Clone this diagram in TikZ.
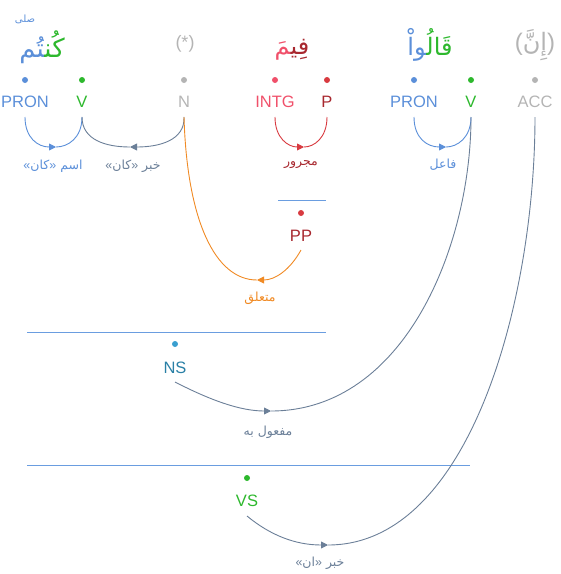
\documentclass[tikz,border=0pt]{standalone}
\usepackage{fontspec}
\setmainfont{Liberation Sans}
\newfontfamily\arabicfont[Script=Arabic]{DejaVu Sans}
\TeXXeTstate=1
\usetikzlibrary{arrows.meta}
\definecolor{cpron}{HTML}{5B8FD9}
\definecolor{cverb}{HTML}{2DB82D}
\definecolor{cgrey}{HTML}{B4B4B4}
\definecolor{cintg}{HTML}{F0506A}
\definecolor{cpdot}{HTML}{D83A40}
\definecolor{cptxt}{HTML}{A8282F}
\definecolor{cns}{HTML}{2A80A6}
\definecolor{cnsdot}{HTML}{3A9FCF}
\definecolor{carc}{HTML}{6B7F98}
\definecolor{corange}{HTML}{F08A24}
\definecolor{cline}{HTML}{6A9DE0}
\newcommand{\arw}[1]{\beginR #1\endR}
\newcommand{\lt}[1]{{\normalfont #1}}
\begin{document}
\begin{tikzpicture}[x=1pt,y=-1pt,
  tag/.style={font=\fontsize{16.5}{18}\selectfont, inner sep=0pt, anchor=base},
  dotn/.style={circle,fill,inner sep=0pt,minimum size=6pt},
  lab/.style={font=\arabicfont\fontsize{12.5}{14}\selectfont, inner sep=0pt},
  word/.style={font=\arabicfont\fontsize{24}{28}\selectfont, inner sep=0pt},
  arcl/.style={line width=0.9pt},
  tip/.style={-{Triangle[length=7pt,width=7pt]}},
  hline/.style={cline, line width=1pt}]
\useasboundingbox (0,0) rectangle (561,574);
% words (pieces set in visual order, left to right)
\node[word, font=\arabicfont\fontsize{26}{30}\selectfont] (w1) at (42,47) {{\color{cpron}^^^^200dتُم}{\color{cverb}كُن^^^^200d}};
\node[cpron, inner sep=0pt, font=\arabicfont\fontsize{10}{11}\selectfont] (w1s) at (25,19) {\arw{صلى}};
\node[word, cgrey, font=\fontsize{18}{20}\selectfont] (w2) at (185,44) {(*)};
\node[word] (w3) at (292,50) {{\color{cintg}^^^^200dمَ}{\color{cptxt}فِي^^^^200d}};
\node[word] (w4) at (430,45) {{\color{cpron}^^^^200dواْ}{\color{cverb}قَالُ^^^^200d}};
\node[word, cgrey] (w5) at (535,45) {\lt{(}\arw{إِنَّ}\lt{)}};
% dots
\node[dotn, cpron] (d1) at (25,80) {};
\node[dotn, cverb] (d2) at (82,80) {};
\node[dotn, cgrey] (d3) at (184,80) {};
\node[dotn, cintg] (d4) at (275,80) {};
\node[dotn, cpdot] (d5) at (327,80) {};
\node[dotn, cpron] (d6) at (414,80) {};
\node[dotn, cverb] (d7) at (471,80) {};
\node[dotn, cgrey] (d8) at (535,80) {};
% tags
\node[tag, cpron] (t1) at (25,107) {PRON};
\node[tag, cverb] (t2) at (82,107) {V};
\node[tag, cgrey] (t3) at (184,107) {N};
\node[tag, cintg] (t4) at (275,107) {INTG};
\node[tag, cptxt] (t5) at (327,107) {P};
\node[tag, cpron] (t6) at (414,107) {PRON};
\node[tag, cverb] (t7) at (471,107) {V};
\node[tag, cgrey] (t8) at (535,107) {ACC};
% phrase nodes
\coordinate (pl1a) at (278,200); \coordinate (pl1b) at (326,200);
\draw[hline] (pl1a) -- (pl1b);
\node[dotn, cpdot] (dpp) at (301,213) {};
\node[tag, cptxt] (tpp) at (301,241) {PP};
\coordinate (pl2a) at (27,332); \coordinate (pl2b) at (326,332);
\draw[hline] (pl2a) -- (pl2b);
\node[dotn, cnsdot] (dns) at (175,344) {};
\node[tag, cns] (tns) at (175,373) {NS};
\coordinate (pl3a) at (27,465); \coordinate (pl3b) at (470,465);
\draw[hline] (pl3a) -- (pl3b);
\node[dotn, cverb] (dvs) at (247,478) {};
\node[tag, cverb] (tvs) at (247,506) {VS};
% arc endpoints
\foreach \n in {1,...,8} {\coordinate (s\n) at ([yshift=-10pt]t\n.base);}
\coordinate (spp) at ([yshift=-9pt]tpp.base);
\coordinate (sns) at ([yshift=-9pt]tns.base);
\coordinate (svs) at ([yshift=-10pt]tvs.base);
% midpoints
\coordinate (m1) at (56,147);
\coordinate (m2) at (130,147);
\coordinate (m3) at (304,147);
\coordinate (m4) at (446,147);
\coordinate (m5) at (257,280);
\coordinate (m6) at (271,411);
\coordinate (m7) at (328,545);
% arcs
\draw[arcl,cpron,tip] (s1) .. controls (25,138) and (38,147) .. (m1);
\draw[arcl,cpron] (m1) .. controls (68,147) and (82,138) .. (s2);
\draw[arcl,carc,tip] (s3) .. controls (185,140) and (160,147) .. (m2);
\draw[arcl,carc] (m2) .. controls (106,147) and (82,140) .. (s2);
\draw[arcl,cpdot,tip] (s4) .. controls (275,138) and (288,147) .. (m3);
\draw[arcl,cpdot] (m3) .. controls (314,147) and (327,138) .. (s5);
\draw[arcl,cpron,tip] (s6) .. controls (414,138) and (427,147) .. (m4);
\draw[arcl,cpron] (m4) .. controls (457,147) and (471,138) .. (s7);
\draw[arcl,corange,tip] (spp) .. controls (290,270) and (275,280) .. (m5);
\draw[arcl,corange] (m5) .. controls (215,280) and (187,220) .. (s3);
\draw[arcl,carc,tip] (sns) .. controls (210,400) and (240,411) .. (m6);
\draw[arcl,carc] (m6) .. controls (405,411) and (471,245) .. (s7);
\draw[arcl,carc,tip] (svs) .. controls (270,535) and (295,545) .. (m7);
\draw[arcl,carc] (m7) .. controls (470,545) and (535,300) .. (s8);
% labels
\node[lab, cpron] (l1) at (53,166) {\lt{«}\arw{كان}\lt{»} \arw{اسم}};
\node[lab, carc] (l2) at (133,166) {\lt{«}\arw{كان}\lt{»} \arw{خبر}};
\node[lab, cptxt] (l3) at (301,165) {\arw{مجرور}};
\node[lab, cpron] (l4) at (443,165) {\arw{فاعل}};
\node[lab, corange] (l5) at (260,298) {\arw{متعلق}};
\node[lab, carc] (l6) at (268,432) {\arw{مفعول به}};
\node[lab, carc] (l7) at (320,563) {\lt{«}\arw{ان}\lt{»} \arw{خبر}};
\end{tikzpicture}
\end{document}
